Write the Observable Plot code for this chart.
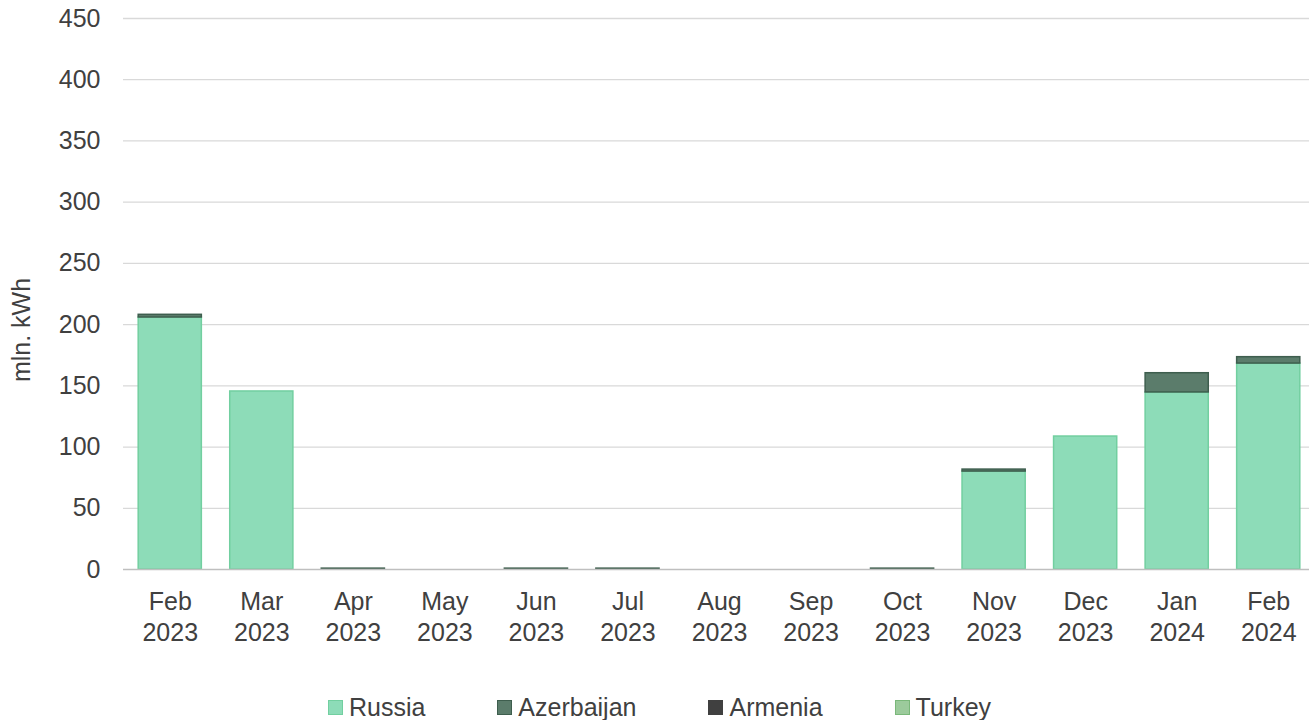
<!DOCTYPE html>
<html><head><meta charset="utf-8">
<script src="https://cdn.jsdelivr.net/npm/d3@7"></script>
<script src="https://cdn.jsdelivr.net/npm/@observablehq/plot@0.6"></script>
<style>
body{margin:0;background:#fff;font-family:"Liberation Sans",Arial,sans-serif;}
#legend{display:flex;justify-content:center;align-items:center;gap:72px;height:38px;padding-left:10px;font-size:25px;color:#404040;}
.item{display:flex;align-items:center;gap:6px}
.sw{width:15px;height:15px;box-sizing:border-box;border:1.5px solid}
</style></head><body><div id="chart"></div><div id="legend"></div>
<script>
const months = ["Feb\n2023","Mar\n2023","Apr\n2023","May\n2023","Jun\n2023","Jul\n2023","Aug\n2023","Sep\n2023","Oct\n2023","Nov\n2023","Dec\n2023","Jan\n2024","Feb\n2024"];
const russia     = [205.8,145.4,0,0,0,0,0,0,0,80.0,108.6,144.6,168.2];
const azerbaijan = [2.2,0,0.7,0,0.7,0.7,0,0,0.7,1.6,0,15.7,5.2];
const armenia    = [0,0,0,0,0,0,0,0,0,0,0,0,0];
const turkey     = [0,0,0,0,0,0,0,0,0,0,0,0,0];
const seriesNames = ["Russia","Azerbaijan","Armenia","Turkey"];
const seriesFill = ["#8ddcb8","#5b7c6b","#404040","#9ccb9c"];
const seriesStroke = ["#72cfa0","#3e5e4e","#404040","#7ab87a"];
const yTicks = [0,50,100,150,200,250,300,350,400,450];

const values = [russia, azerbaijan, armenia, turkey];
const base = months.map(() => 0);
const rows = [];
seriesNames.forEach((s, i) => {
  months.forEach((m, j) => {
    const v = values[i][j];
    if (v > 0) rows.push({month: m, series: s, idx: i, y1: base[j], y2: base[j] + v});
    base[j] += v;
  });
});

const marks = [
  Plot.ruleY(yTicks.filter(t => t > 0), {stroke: "#d9d9d9", strokeWidth: 1.3}),
  ...seriesNames.map((s, i) => Plot.barY(rows.filter(r => r.idx === i), {
    x: "month", y1: "y1", y2: "y2", fill: seriesFill[i], stroke: seriesStroke[i], strokeWidth: 1.5
  })),
  Plot.ruleY([0], {stroke: "#bfbfbf", strokeWidth: 1.5}),
  Plot.axisX({tickSize: 0, tickPadding: 18, lineHeight: 1.24, fontSize: 25}),
  Plot.axisY({ticks: yTicks, tickSize: 0, tickPadding: 23, label: null, fontSize: 25}),
  Plot.text(["mln. kWh"], {frameAnchor: "left", text: d => d, rotate: -90, textAnchor: "middle", dx: -102, dy: 36, fontSize: 25, fill: "#404040"})
];

const chart = Plot.plot({
  width: 1309, height: 688,
  marginTop: 18, marginBottom: 119, marginLeft: 123, marginRight: 0,
  style: {fontFamily: "'Liberation Sans', Arial, sans-serif", fontSize: "25px", color: "#404040", background: "#fff"},
  x: {domain: months, range: [124, 1314], round: false, paddingInner: 0.31, paddingOuter: 0.155, label: null},
  y: {domain: [0, 450], label: null},
  marks
});
document.getElementById("chart").appendChild(chart);

const leg = document.getElementById("legend");
seriesNames.forEach((s, i) => {
  const it = document.createElement("div"); it.className = "item";
  const sw = document.createElement("span"); sw.className = "sw";
  sw.style.background = seriesFill[i]; sw.style.borderColor = seriesStroke[i];
  const t = document.createElement("span"); t.textContent = s;
  it.appendChild(sw); it.appendChild(t); leg.appendChild(it);
});
</script></body></html>
